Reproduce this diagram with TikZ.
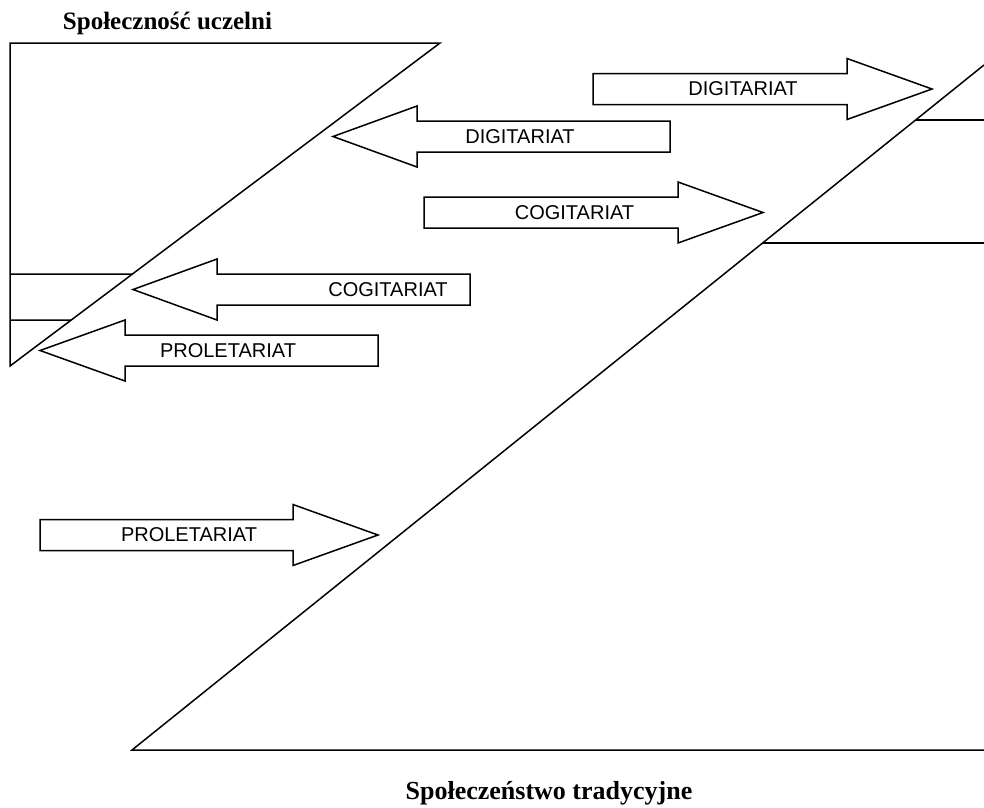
\documentclass[tikz,border=0pt]{standalone}
\usepackage{fontspec}
\setmainfont{Liberation Serif}
\newfontfamily\arialfont{Liberation Sans}
\tikzset{
  outline/.style={line width=1.5pt, line join=miter},
  blockarrow/.style={outline},
  arrowlabel/.style={font=\arialfont\fontsize{20}{24}\selectfont, inner sep=0pt},
  title/.style={font=\bfseries\fontsize{25}{30}\selectfont, inner sep=0pt, anchor=base}
}

\begin{document}
\begin{tikzpicture}[x=1pt, y=-1pt]
\useasboundingbox (0,0) rectangle (984,807);

% Small triangle (university community)
\coordinate (u1) at (10,43);
\coordinate (u2) at (440,43);
\coordinate (u3) at (10,366);
\draw[outline] (u1) -- (u2) -- (u3) -- cycle;
\foreach \y in {274,320}
  \draw[outline] (10,\y) -- (intersection of u2--u3 and 10,\y--500,\y);

% Large triangle (traditional society)
\coordinate (t1) at (984,65);
\coordinate (t2) at (132,750);
\coordinate (t3) at (984,750);
\draw[outline] (t1) -- (t2) -- (t3);
\foreach \y in {120,243}
  \draw[outline] (intersection of t1--t2 and 100,\y--984,\y) -- (984,\y);

% Block arrows
\foreach \name/\tail/\neck/\tip/\c/\lx/\txt in {
    d1/593/847/932/89/743/DIGITARIAT,
    d2/670/417/333/136.5/520/DIGITARIAT,
    c1/424/678/763/212.5/574.5/COGITARIAT,
    c2/470/217/133/289.5/388/COGITARIAT,
    p1/378/125/40/350.5/228/PROLETARIAT,
    p2/40/293/378/535/189/PROLETARIAT} {
  \draw[blockarrow] (\tail,\c-15.5) -- (\neck,\c-15.5) -- (\neck,\c-30.5)
    -- (\tip,\c) -- (\neck,\c+30.5) -- (\neck,\c+15.5) -- (\tail,\c+15.5) -- cycle;
  \node[arrowlabel] (\name) at (\lx,\c) {\txt};
}

% Titles
\node[title] (uczelnia) at (167.5,29) {Społeczność uczelni};
\node[title, font=\bfseries\fontsize{26}{30}\selectfont] (tradycja) at (549,799) {Społeczeństwo tradycyjne};

\end{tikzpicture}
\end{document}
